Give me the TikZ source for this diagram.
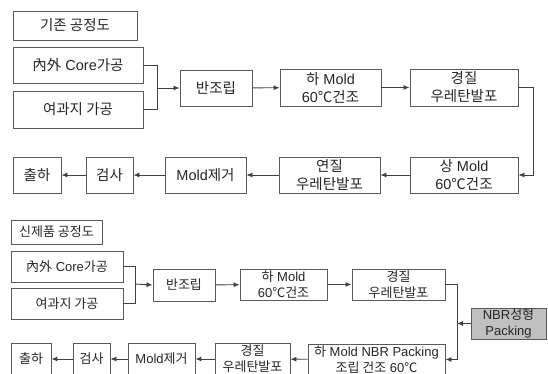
\documentclass[tikz,border=0pt]{standalone}
\usepackage{fontspec}
\setmainfont{Liberation Sans}
\newfontfamily\kr{Noto Sans CJK KR}
\newcommand{\ko}[1]{{\kr #1}}
\usetikzlibrary{arrows.meta}
\definecolor{boxgray}{HTML}{5A5A5A}
\definecolor{linegray}{HTML}{404040}
\definecolor{nbrgray}{HTML}{C0C0C0}
\tikzset{
  procbox/.style={draw=boxgray, line width=.9pt, inner sep=0pt, align=center, text=black!85},
  bigbox/.style={procbox, font=\fontsize{14.5}{18}\selectfont},
  smallbox/.style={procbox, font=\fontsize{13}{16}\selectfont},
  flow/.style={draw=linegray, line width=.9pt, -{Latex[length=6pt,width=5pt]}},
  link/.style={draw=linegray, line width=.9pt}
}
\begin{document}
\begin{tikzpicture}[x=1pt,y=-1pt]
				\useasboundingbox (0,0) rectangle (548,373);
				% existing process
				\node[bigbox, minimum width=124, minimum height=29] (oldtitle) at (75,25.5) {\ko{기존 공정도}};
				\node[bigbox, minimum width=130, minimum height=36] (oldcore) at (78,65) {\ko{內外} Core\ko{가공}};
				\node[bigbox, minimum width=130, minimum height=37] (oldfilter) at (78,109.5) {\ko{여과지 가공}};
				\node[bigbox, minimum width=72, minimum height=36] (oldasm) at (216,88) {\ko{반조립}};
				\node[bigbox, minimum width=101, minimum height=37] (oldlow) at (330.5,87.5) {\ko{하} Mold\\60\ko{℃건조}};
				\node[bigbox, minimum width=108, minimum height=37] (oldhard) at (464,87.5) {\ko{경질}\\\ko{우레탄발포}};
				\node[bigbox, minimum width=108, minimum height=36] (oldup) at (464,175) {\ko{상} Mold\\60\ko{℃건조}};
				\node[bigbox, minimum width=101, minimum height=36] (oldsoft) at (329.5,175) {\ko{연질}\\\ko{우레탄발포}};
				\node[bigbox, minimum width=81, minimum height=36] (olddemold) at (205.5,175) {Mold\ko{제거}};
				\node[bigbox, minimum width=47, minimum height=36] (oldinsp) at (109.5,175) {\ko{검사}};
				\node[bigbox, minimum width=48, minimum height=36] (oldship) at (37,175) {\ko{출하}};
				\coordinate (oldjoin) at (157,88);
				\coordinate (oldturn) at (533,87.5);
				\draw[link] (oldcore.east) -| (oldjoin);
				\draw[link] (oldfilter.east) -| (oldjoin);
				\draw[flow] (oldjoin) -- (oldasm.west);
				\draw[flow] (oldasm) -- (oldlow);
				\draw[flow] (oldlow) -- (oldhard);
				\draw[flow] (oldhard.east) -- (oldturn) |- (oldup.east);
				\draw[flow] (oldup) -- (oldsoft);
				\draw[flow] (oldsoft) -- (olddemold);
				\draw[flow] (olddemold) -- (oldinsp);
				\draw[flow] (oldinsp) -- (oldship);
				% new product process
				\node[smallbox, minimum width=91, minimum height=24] (newtitle) at (56.5,232) {\ko{신제품 공정도}};
				\node[smallbox, minimum width=112, minimum height=31] (newcore) at (67,266.5) {\ko{內外} Core\ko{가공}};
				\node[smallbox, minimum width=112, minimum height=31] (newfilter) at (67,303.5) {\ko{여과지 가공}};
				\node[smallbox, minimum width=62, minimum height=32] (newasm) at (184,285) {\ko{반조립}};
				\node[smallbox, minimum width=87, minimum height=31] (newlow) at (283.5,284.5) {\ko{하} Mold\\60\ko{℃건조}};
				\node[smallbox, minimum width=93, minimum height=31] (newhard) at (398.5,284.5) {\ko{경질}\\\ko{우레탄발포}};
				\node[smallbox, fill=nbrgray, minimum width=75, minimum height=31] (nbr) at (508.5,323.5) {NBR\ko{성형}\\Packing};
				\node[smallbox, minimum width=137, minimum height=31] (newpack) at (376.5,359.5) {\ko{하} Mold NBR Packing\\\ko{조립 건조} 60\ko{℃}};
				\node[smallbox, minimum width=75, minimum height=31] (newhard2) at (252.5,359) {\ko{경질}\\\ko{우레탄발포}};
				\node[smallbox, minimum width=67, minimum height=31] (newdemold) at (161.5,359) {Mold\ko{제거}};
				\node[smallbox, minimum width=37, minimum height=31] (newinsp) at (91.5,359) {\ko{검사}};
				\node[smallbox, minimum width=40, minimum height=31] (newship) at (31,359) {\ko{출하}};
				\coordinate (newjoin) at (135,284);
				\coordinate (newturn) at (457,284.5);
				\coordinate (nbrin) at (457,323.5);
				\draw[link] (newcore.east) -| (newjoin);
				\draw[link] (newfilter.east) -| (newjoin);
				\draw[flow] (newjoin) -- (newasm.west);
				\draw[flow] (newasm) -- (newlow);
				\draw[flow] (newlow) -- (newhard);
				\draw[flow] (newhard.east) -- (newturn) |- (newpack.east);
				\draw[flow] (nbr) -- (nbrin);
				\draw[flow] (newpack) -- (newhard2);
				\draw[flow] (newhard2) -- (newdemold);
				\draw[flow] (newdemold) -- (newinsp);
				\draw[flow] (newinsp) -- (newship);
\end{tikzpicture}
\end{document}
